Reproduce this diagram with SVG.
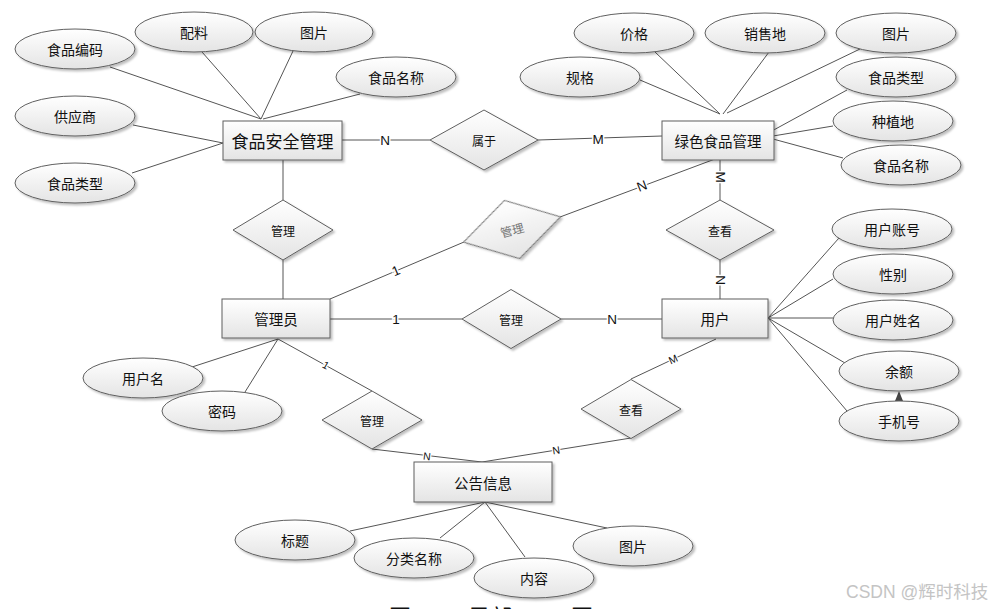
<svg xmlns="http://www.w3.org/2000/svg" width="1000" height="609" viewBox="0 0 1000 609">
<defs>
<linearGradient id="g" x1="0" y1="0" x2="0" y2="1">
<stop offset="0" stop-color="#ffffff"/>
<stop offset="1" stop-color="#e4e4e4"/>
</linearGradient>
<filter id="sh" x="-10%" y="-10%" width="130%" height="140%">
<feDropShadow dx="2" dy="2" stdDeviation="1.2" flood-color="#000" flood-opacity="0.25"/>
</filter>
</defs>
<style>
.sh{fill:url(#g);stroke:#5f5f5f;stroke-width:1;filter:url(#sh)}
.t{font-family:"Noto Sans CJK SC","Liberation Sans",sans-serif;font-size:14px;fill:#111;text-anchor:middle;dominant-baseline:central}
.te{font-family:"Noto Sans CJK SC","Liberation Sans",sans-serif;font-size:14.5px;fill:#111;text-anchor:middle;dominant-baseline:central}
.td{font-family:"Noto Sans CJK SC","Liberation Sans",sans-serif;font-size:12px;fill:#111;text-anchor:middle;dominant-baseline:central}
.ln{stroke:#555;stroke-width:1;fill:none}
.c{font-family:"Liberation Sans","Noto Sans",sans-serif;font-size:13.5px;fill:#111;text-anchor:middle;dominant-baseline:central;stroke:#fff;stroke-width:3px;paint-order:stroke}
.cs{font-family:"Liberation Sans","Noto Sans",sans-serif;font-size:10.5px;fill:#111;text-anchor:middle;dominant-baseline:central;stroke:#fff;stroke-width:2.5px;paint-order:stroke}
</style>
<rect width="1000" height="609" fill="#fff"/>

<g id="connectors">
<g class="ln">
<line x1="110" y1="67" x2="261" y2="119"/>
<line x1="202" y1="52" x2="261" y2="119"/>
<line x1="293" y1="51" x2="261" y2="119"/>
<line x1="360" y1="94" x2="263" y2="119"/>
<line x1="133" y1="125" x2="223" y2="143"/>
<line x1="132" y1="173" x2="223" y2="143"/>
<line x1="342" y1="140" x2="430" y2="140"/>
<line x1="538" y1="140" x2="662" y2="136"/>
<line x1="640" y1="80" x2="720" y2="114"/>
<line x1="655" y1="52" x2="720" y2="114"/>
<line x1="769" y1="52" x2="723" y2="114"/>
<line x1="860" y1="49" x2="727" y2="113"/>
<line x1="847" y1="90" x2="770" y2="132"/>
<line x1="833" y1="126" x2="773" y2="136"/>
<line x1="843" y1="158" x2="773" y2="139"/>
<line x1="283" y1="160" x2="283" y2="200"/>
<line x1="283" y1="260" x2="283" y2="299"/>
<line x1="330" y1="299" x2="464" y2="242"/>
<line x1="560" y1="217" x2="723" y2="156"/>
<line x1="720" y1="160" x2="720" y2="200"/>
<line x1="720" y1="260" x2="720" y2="299"/>
<line x1="330" y1="319" x2="462" y2="319"/>
<line x1="561" y1="319" x2="662" y2="319"/>
<line x1="768" y1="318" x2="839" y2="238"/>
<line x1="768" y1="318" x2="833" y2="279"/>
<line x1="768" y1="318" x2="833" y2="318"/>
<line x1="768" y1="318" x2="845" y2="363"/>
<line x1="768" y1="318" x2="847" y2="411"/>
<line x1="899" y1="401" x2="899" y2="395"/>
<line x1="278" y1="339" x2="192" y2="367"/>
<line x1="278" y1="339" x2="245" y2="392"/>
<line x1="278" y1="339" x2="372" y2="391"/>
<line x1="372" y1="449" x2="482" y2="462"/>
<line x1="631" y1="438" x2="482" y2="462"/>
<line x1="631" y1="379" x2="716" y2="339"/>
<line x1="485" y1="502" x2="350" y2="531"/>
<line x1="485" y1="502" x2="440" y2="538"/>
<line x1="485" y1="502" x2="525" y2="557"/>
<line x1="485" y1="502" x2="607" y2="528"/>
</g>
<polygon points="899,391 895,401 903,401" fill="#444"/>
<text class="c" x="385" y="140">N</text>
<text class="c" x="598" y="139">M</text>
<text class="c" x="396" y="271" transform="rotate(-23 396 271)">1</text>
<text class="c" x="642" y="186" transform="rotate(-21 642 186)">N</text>
<text class="c" x="720" y="177" transform="rotate(90 720 177)">M</text>
<text class="c" x="720" y="280" transform="rotate(90 720 280)">N</text>
<text class="c" x="396" y="319">1</text>
<text class="c" x="612" y="319">N</text>
<text class="cs" x="326" y="365" transform="rotate(29 326 365)">1</text>
<text class="cs" x="427" y="456" transform="rotate(7 427 456)">N</text>
<text class="cs" x="556" y="450" transform="rotate(-9 556 450)">N</text>
<text class="cs" x="673" y="359" transform="rotate(-25 673 359)">M</text>
</g>

<g id="attr-食品编码"><ellipse class="sh" cx="75" cy="49" rx="60" ry="20"/><text class="t" x="75" y="49">食品编码</text></g>
<g id="attr-配料"><ellipse class="sh" cx="194" cy="32" rx="59" ry="20"/><text class="t" x="194" y="32">配料</text></g>
<g id="attr-图片1"><ellipse class="sh" cx="314" cy="32" rx="59" ry="20"/><text class="t" x="314" y="32">图片</text></g>
<g id="attr-食品名称1"><ellipse class="sh" cx="396" cy="77" rx="60" ry="20"/><text class="t" x="396" y="77">食品名称</text></g>
<g id="attr-供应商"><ellipse class="sh" cx="75" cy="116" rx="60" ry="20"/><text class="t" x="75" y="116">供应商</text></g>
<g id="attr-食品类型1"><ellipse class="sh" cx="75" cy="183" rx="60" ry="20"/><text class="t" x="75" y="183">食品类型</text></g>

<g id="attr-价格"><ellipse class="sh" cx="634" cy="33" rx="60" ry="20"/><text class="t" x="634" y="33">价格</text></g>
<g id="attr-销售地"><ellipse class="sh" cx="765" cy="33" rx="60" ry="20"/><text class="t" x="765" y="33">销售地</text></g>
<g id="attr-图片2"><ellipse class="sh" cx="896" cy="33" rx="60" ry="20"/><text class="t" x="896" y="33">图片</text></g>
<g id="attr-规格"><ellipse class="sh" cx="580" cy="77" rx="60" ry="20"/><text class="t" x="580" y="77">规格</text></g>
<g id="attr-食品类型2"><ellipse class="sh" cx="896" cy="77" rx="60" ry="20"/><text class="t" x="896" y="77">食品类型</text></g>
<g id="attr-种植地"><ellipse class="sh" cx="893" cy="121" rx="60" ry="20"/><text class="t" x="893" y="121">种植地</text></g>
<g id="attr-食品名称2"><ellipse class="sh" cx="901" cy="165" rx="60" ry="20"/><text class="t" x="901" y="165">食品名称</text></g>

<g id="attr-用户账号"><ellipse class="sh" cx="892" cy="229" rx="60" ry="20"/><text class="t" x="892" y="229">用户账号</text></g>
<g id="attr-性别"><ellipse class="sh" cx="893" cy="274" rx="60" ry="20"/><text class="t" x="893" y="274">性别</text></g>
<g id="attr-用户姓名"><ellipse class="sh" cx="893" cy="320" rx="60" ry="20"/><text class="t" x="893" y="320">用户姓名</text></g>
<g id="attr-余额"><ellipse class="sh" cx="899" cy="371" rx="60" ry="20"/><text class="t" x="899" y="371">余额</text></g>
<g id="attr-手机号"><ellipse class="sh" cx="899" cy="421" rx="60" ry="20"/><text class="t" x="899" y="421">手机号</text></g>

<g id="attr-用户名"><ellipse class="sh" cx="143" cy="378" rx="60" ry="20"/><text class="t" x="143" y="378">用户名</text></g>
<g id="attr-密码"><ellipse class="sh" cx="222" cy="411" rx="60" ry="20"/><text class="t" x="222" y="411">密码</text></g>

<g id="attr-标题"><ellipse class="sh" cx="295" cy="540" rx="60" ry="20"/><text class="t" x="295" y="540">标题</text></g>
<g id="attr-分类名称"><ellipse class="sh" cx="414" cy="558" rx="60" ry="20"/><text class="t" x="414" y="558">分类名称</text></g>
<g id="attr-内容"><ellipse class="sh" cx="534" cy="578" rx="60" ry="20"/><text class="t" x="534" y="578">内容</text></g>
<g id="attr-图片3"><ellipse class="sh" cx="633" cy="546" rx="60" ry="20"/><text class="t" x="633" y="546">图片</text></g>

<g id="ent-食品安全管理"><rect class="sh" x="223" y="121" width="119" height="39"/><text class="te" x="282.5" y="140.5" style="font-size:17px">食品安全管理</text></g>
<g id="ent-绿色食品管理"><rect class="sh" x="662" y="121" width="112" height="39"/><text class="te" x="718" y="140.5">绿色食品管理</text></g>
<g id="ent-管理员"><rect class="sh" x="222" y="299" width="108" height="39"/><text class="te" x="276" y="318.5">管理员</text></g>
<g id="ent-用户"><rect class="sh" x="662" y="299" width="106" height="39"/><text class="te" x="715" y="318.5">用户</text></g>
<g id="ent-公告信息"><rect class="sh" x="414" y="462" width="138" height="40"/><text class="te" x="483" y="482">公告信息</text></g>

<g id="rel-属于"><polygon class="sh" points="430,140 484,110 538,140 484,170"/><text class="td" x="484" y="140">属于</text></g>
<g id="rel-管理1"><polygon class="sh" points="233,230 283,200 333,230 283,260"/><text class="td" x="283" y="230">管理</text></g>
<g id="rel-管理2" transform="rotate(-14.6 512 229.5)"><polygon class="sh" points="462,229.5 512,199.5 562,229.5 512,259.5"/><text class="td" x="512" y="229.5" style="fill:#777">管理</text></g>
<g id="rel-查看1"><polygon class="sh" points="666,230 720,200 774,230 720,260"/><text class="td" x="720" y="230">查看</text></g>
<g id="rel-管理3"><polygon class="sh" points="462,319 511,289.5 561,319 511,348.5"/><text class="td" x="511" y="319">管理</text></g>
<g id="rel-管理4"><polygon class="sh" points="322,420 372,391 422,420 372,449"/><text class="td" x="372" y="420">管理</text></g>
<g id="rel-查看2"><polygon class="sh" points="581,409 631,379.5 681,409 631,438.5"/><text class="td" x="631" y="409">查看</text></g>

<text x="846" y="598" style="font-family:'Liberation Sans','Noto Sans CJK SC',sans-serif;font-size:17.5px;fill:#c4c4c4">CSDN @辉时科技</text>
<text y="625" style="font-family:'Noto Sans CJK SC',sans-serif;font-size:22px;fill:#111"><tspan x="389">图4-1</tspan><tspan x="468">局部E-R</tspan><tspan x="571">图</tspan></text>
</svg>
